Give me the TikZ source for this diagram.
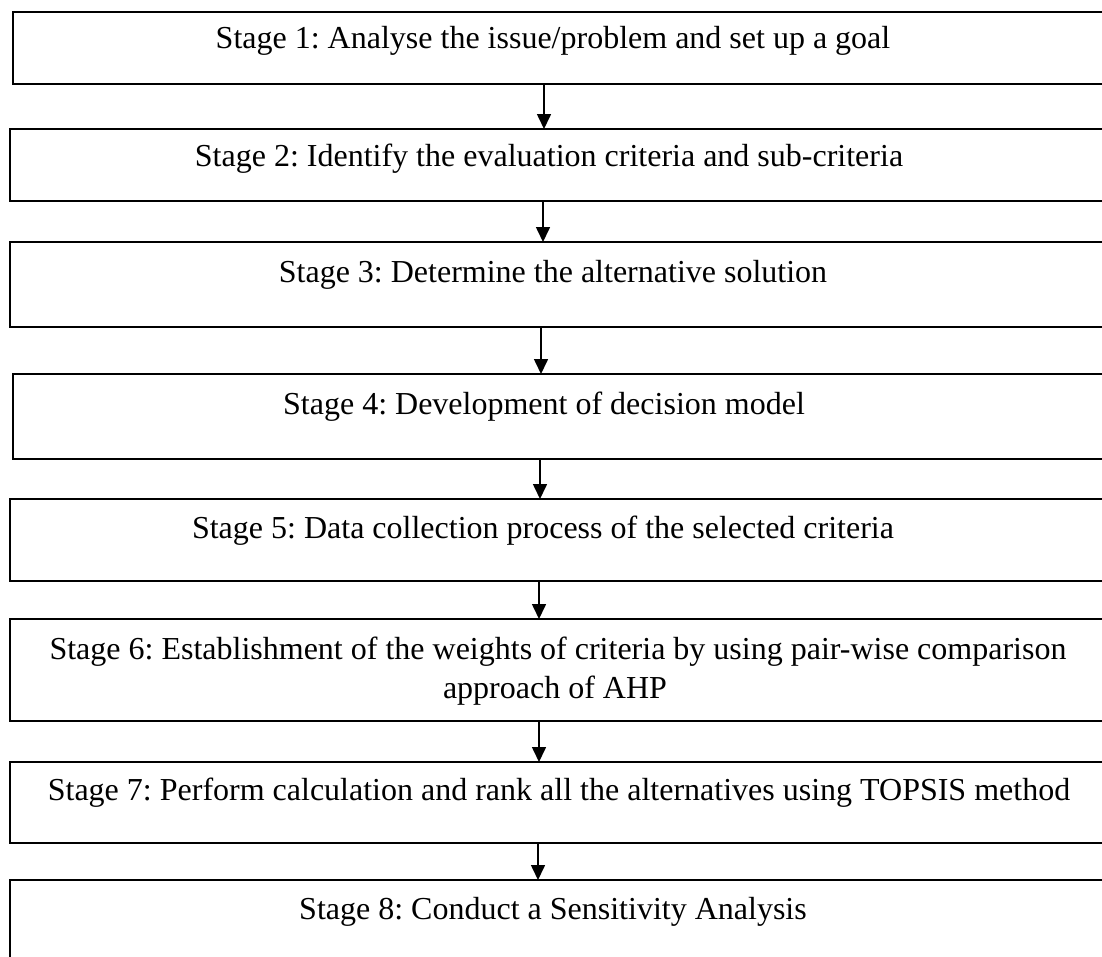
\documentclass[tikz,border=0pt]{standalone}
\usepackage{fontspec}
\setmainfont{Liberation Serif}
\usetikzlibrary{arrows.meta}
\begin{document}
\frenchspacing
\begin{tikzpicture}[x=1pt,y=-1pt,
  stagebox/.style={draw, line width=2.3pt, anchor=north west, inner sep=0pt, outer sep=0pt},
  stagetext/.style={anchor=base, inner sep=0pt, align=center, font=\fontsize{32}{40}\selectfont},
  flow/.style={line width=1.6pt, -{Triangle[length=15pt,width=14pt]}}]
  \useasboundingbox (0,0) rectangle (1102,956);
  \clip (0,0) rectangle (1102,956);

  % stage boxes (they run past the right and bottom edges)
  \node[stagebox, minimum width=1110pt, minimum height=72pt]  (s1) at (13,12)  {};
  \node[stagebox, minimum width=1113pt, minimum height=72pt]  (s2) at (10,129) {};
  \node[stagebox, minimum width=1113pt, minimum height=85pt]  (s3) at (10,242) {};
  \node[stagebox, minimum width=1110pt, minimum height=85pt]  (s4) at (13,374) {};
  \node[stagebox, minimum width=1113pt, minimum height=82pt]  (s5) at (10,499) {};
  \node[stagebox, minimum width=1113pt, minimum height=102pt] (s6) at (10,619) {};
  \node[stagebox, minimum width=1113pt, minimum height=81pt]  (s7) at (10,762) {};
  \node[stagebox, minimum width=1113pt, minimum height=110pt] (s8) at (10,880) {};

  % stage labels
  \node[stagetext] (t1) at (553,48)  {Stage 1: Analyse the issue/problem and set up a goal};
  \node[stagetext] (t2) at (549,166) {Stage 2: Identify the evaluation criteria and sub-criteria};
  \node[stagetext] (t3) at (553,282) {Stage 3: Determine the alternative solution};
  \node[stagetext] (t4) at (544,414) {Stage 4: Development of decision model};
  \node[stagetext] (t5) at (543,538) {Stage 5: Data collection process of the selected criteria};
  \node[stagetext] (t6) at (558,659) {Stage 6: Establishment of the weights of criteria by using pair-wise comparison};
  \node[stagetext] (t6b) at (555,698) {approach of AHP};
  \node[stagetext] (t7) at (559,800) {Stage 7: Perform calculation and rank all the alternatives using TOPSIS method};
  \node[stagetext] (t8) at (553,919) {Stage 8: Conduct a Sensitivity Analysis};

  % arrows between consecutive stages
  \coordinate (a1) at (544,0);
  \coordinate (a2) at (543,0);
  \coordinate (a3) at (541,0);
  \coordinate (a4) at (540,0);
  \coordinate (a5) at (539,0);
  \coordinate (a6) at (539,0);
  \coordinate (a7) at (538,0);
  \draw[flow] (s1.south -| a1) -- (s2.north -| a1);
  \draw[flow] (s2.south -| a2) -- (s3.north -| a2);
  \draw[flow] (s3.south -| a3) -- (s4.north -| a3);
  \draw[flow] (s4.south -| a4) -- (s5.north -| a4);
  \draw[flow] (s5.south -| a5) -- (s6.north -| a5);
  \draw[flow] (s6.south -| a6) -- (s7.north -| a6);
  \draw[flow] (s7.south -| a7) -- (s8.north -| a7);
\end{tikzpicture}
\end{document}
